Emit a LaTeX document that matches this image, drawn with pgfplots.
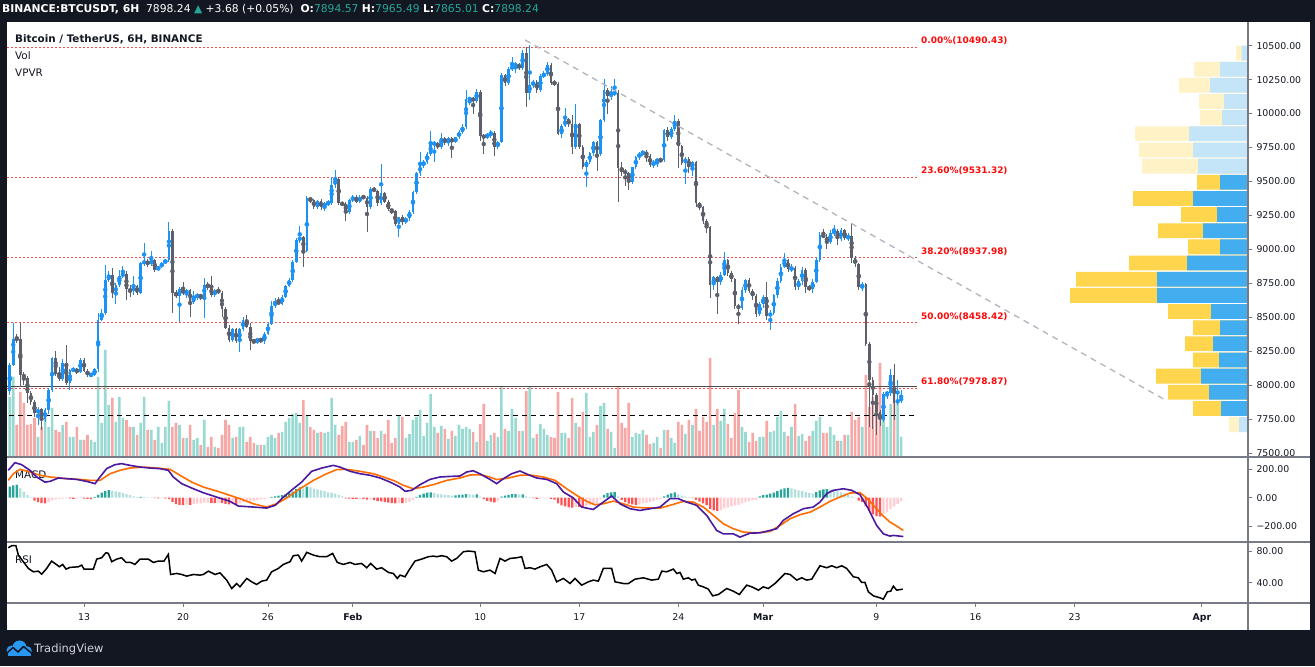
\documentclass[border=0pt]{standalone}
\usepackage{pgfplots}
\pgfplotsset{compat=1.18}
\usepackage{pgfplotstable}
\usepackage{fontspec}
\setmainfont{DejaVu Sans}
\definecolor{bgdark}{RGB}{19,23,34}
\definecolor{titlec}{RGB}{19,23,34}
\definecolor{upc}{RGB}{28,146,245}
\definecolor{dnc}{RGB}{93,96,107}
\definecolor{volup}{RGB}{50,180,166}
\definecolor{voldn}{RGB}{239,83,80}
\definecolor{macdc}{RGB}{75,25,160}
\definecolor{sigc}{RGB}{255,109,0}
\definecolor{hA}{RGB}{38,166,154}
\definecolor{hB}{RGB}{178,223,219}
\definecolor{hC}{RGB}{255,82,82}
\definecolor{hD}{RGB}{255,205,210}
\definecolor{fibline}{RGB}{245,80,80}
\definecolor{fibtext}{RGB}{255,10,10}
\definecolor{sepgrey}{RGB}{120,123,134}
\definecolor{trendgrey}{RGB}{178,181,190}
\definecolor{tvteal}{RGB}{38,166,154}
\definecolor{vpy}{RGB}{254,213,76}
\definecolor{vpb}{RGB}{66,174,240}
\definecolor{vpyl}{RGB}{255,242,198}
\definecolor{vpbl}{RGB}{196,228,248}
\definecolor{tvblue}{RGB}{41,152,242}
\definecolor{logotext}{RGB}{209,212,220}

\pgfplotstableread{
i o h l c v hg k
0 7960 8160 7926 8147 60 78 0
1 8147 8454 8140 8343 80 86 0
2 8343 8380 8310 8336 32 90 0
3 8336 8454 7987 8078 65 66 1
4 8078 8095 8000 8056 54 42 1
5 8056 8070 7870 7943 32 19 1
6 7943 7960 7850 7877 33 5 1
7 7877 7890 7766 7791 39 -20 2
8 7791 7840 7705 7823 20 -32 2
9 7823 7835 7668 7754 30 -38 2
10 7754 7830 7730 7815 40 -40 2
11 7815 7980 7790 7967 30 -30 3
12 7967 8210 7950 8196 49 -18 3
13 8196 8252 8070 8085 27 -12 3
14 8085 8130 8030 8044 25 -8 3
15 8044 8190 8030 8164 32 -6 3
16 8164 8294 8000 8017 35 -4 3
17 8017 8120 7963 8110 20 -5 2
18 8110 8130 8095 8115 20 -8 2
19 8115 8125 8085 8098 30 -6 3
20 8098 8200 8090 8184 17 -4 3
21 8184 8200 8095 8105 17 -7 2
22 8105 8115 8060 8073 22 -9 2
23 8073 8090 8060 8078 17 -10 2
24 8078 8125 8070 8115 15 5 0
25 8115 8530 8100 8483 80 20 0
26 8483 8560 8470 8532 34 35 0
27 8532 8884 8520 8773 107 48 0
28 8773 8840 8760 8810 52 54 0
29 8810 8860 8640 8675 59 50 1
30 8675 8750 8600 8736 35 45 1
31 8736 8850 8720 8803 60 40 1
32 8803 8880 8790 8822 39 32 1
33 8822 8840 8630 8705 37 25 1
34 8705 8740 8650 8690 30 18 1
35 8690 8800 8660 8729 30 10 1
36 8729 8740 8660 8680 22 4 1
37 8680 8910 8670 8896 34 6 0
38 8896 9044 8880 8913 60 5 1
39 8913 8930 8870 8890 27 3 1
40 8890 8990 8880 8921 27 2 1
41 8921 8930 8830 8850 17 -3 2
42 8850 8880 8840 8870 30 -4 2
43 8870 8910 8860 8900 14 -3 3
44 8900 8930 8890 8921 30 -5 2
45 8921 9203 8910 9134 56 -10 2
46 9134 9150 8528 8680 30 -30 2
47 8680 8700 8640 8658 34 -45 2
48 8658 8720 8466 8705 32 -50 2
49 8705 8760 8660 8675 19 -52 2
50 8675 8710 8640 8700 19 -48 3
51 8700 8710 8500 8614 32 -50 2
52 8614 8690 8600 8650 17 -45 3
53 8650 8680 8630 8663 19 -42 3
54 8663 8670 8630 8650 12 -40 3
55 8650 8790 8495 8741 37 -35 3
56 8741 8760 8700 8724 10 -34 3
57 8724 8800 8650 8660 20 -36 2
58 8660 8710 8650 8700 10 -38 2
59 8700 8720 8670 8680 9 -34 3
60 8680 8690 8503 8564 22 -38 2
61 8564 8575 8410 8424 37 -44 2
62 8424 8440 8320 8331 32 -48 2
63 8331 8420 8320 8410 19 -46 3
64 8410 8420 8310 8326 20 -47 2
65 8326 8420 8245 8410 30 -40 3
66 8410 8500 8400 8479 30 -32 3
67 8479 8520 8420 8429 15 -28 3
68 8429 8454 8257 8326 20 -26 3
69 8326 8340 8300 8324 14 -22 3
70 8324 8350 8300 8340 12 -17 3
71 8340 8350 8310 8326 12 -12 3
72 8326 8390 8300 8380 12 -8 3
73 8380 8460 8370 8449 20 -4 3
74 8449 8620 8440 8582 22 5 0
75 8582 8640 8570 8614 19 10 0
76 8614 8650 8590 8600 24 14 0
77 8600 8660 8590 8650 25 18 0
78 8650 8740 8640 8732 35 24 0
79 8732 8790 8720 8773 39 32 0
80 8773 8920 8760 8908 43 42 0
81 8908 9080 8900 9068 44 60 0
82 9068 9171 9050 9088 34 72 0
83 9088 9100 8867 8990 57 66 1
84 8990 9390 8980 9375 42 78 0
85 9375 9388 9340 9363 30 72 1
86 9363 9370 9300 9314 27 64 1
87 9314 9365 9300 9358 24 58 1
88 9358 9370 9290 9309 25 52 1
89 9309 9345 9280 9338 24 46 1
90 9338 9360 9320 9343 25 38 1
91 9343 9535 9330 9471 59 34 1
92 9471 9584 9450 9515 32 28 1
93 9515 9530 9330 9338 22 18 1
94 9338 9350 9320 9333 31 10 1
95 9333 9345 9211 9277 35 -5 2
96 9277 9370 9260 9363 15 -7 2
97 9363 9400 9350 9383 15 -8 2
98 9383 9400 9340 9351 17 -9 2
99 9351 9400 9340 9388 21 -8 3
100 9388 9400 9370 9380 12 -10 2
101 9380 9395 9125 9314 32 -14 2
102 9314 9460 9300 9444 26 -14 3
103 9444 9460 9420 9432 26 -18 2
104 9432 9440 9320 9338 19 -24 2
105 9338 9628 9330 9412 26 -26 2
106 9412 9420 9340 9351 23 -30 2
107 9351 9360 9280 9294 37 -35 2
108 9294 9300 9260 9280 14 -38 2
109 9280 9290 9170 9186 19 -40 2
110 9186 9240 9093 9235 42 -38 3
111 9235 9250 9180 9198 40 -39 2
112 9198 9240 9190 9228 19 -36 3
113 9228 9290 9210 9277 23 -30 3
114 9277 9430 9260 9424 37 -16 3
115 9424 9570 9410 9560 40 5 0
116 9560 9720 9540 9621 47 20 0
117 9621 9660 9600 9645 21 28 0
118 9645 9720 9630 9702 34 35 0
119 9702 9874 9690 9776 63 38 0
120 9776 9800 9640 9781 30 32 1
121 9781 9790 9740 9756 24 26 1
122 9756 9860 9740 9817 31 24 1
123 9817 9830 9770 9788 28 20 1
124 9788 9830 9760 9817 18 18 1
125 9817 9825 9670 9788 26 14 1
126 9788 9830 9780 9825 21 16 0
127 9825 9880 9810 9867 32 20 0
128 9867 9920 9850 9904 28 22 0
129 9904 10174 9890 10105 30 26 0
130 10105 10120 10060 10112 28 24 1
131 10112 10125 10000 10095 25 22 1
132 10095 10180 10080 10161 15 24 0
133 10161 10170 9800 9835 33 8 1
134 9835 9850 9700 9825 53 -10 2
135 9825 9860 9810 9849 16 -22 2
136 9849 9880 9820 9859 22 -28 2
137 9859 9870 9690 9756 24 -33 2
138 9756 9800 9740 9793 20 -25 3
139 9793 10300 9780 10284 70 8 0
140 10284 10295 10200 10223 28 14 0
141 10223 10340 10210 10326 26 20 0
142 10326 10420 10310 10351 48 25 0
143 10351 10380 10300 10365 39 26 0
144 10365 10375 10320 10333 26 22 1
145 10333 10470 10320 10444 26 24 0
146 10444 10490 10050 10154 66 10 1
147 10154 10505 10100 10211 70 4 1
148 10211 10250 10190 10233 19 -3 2
149 10233 10250 10150 10174 23 -8 2
150 10174 10290 10160 10277 33 -6 3
151 10277 10310 10260 10292 28 -5 3
152 10292 10380 10280 10358 22 -3 3
153 10358 10370 10210 10228 20 -8 2
154 10228 10250 10200 10220 19 -14 2
155 10220 10230 9840 9849 65 -40 2
156 9849 9920 9820 9908 24 -55 2
157 9908 10040 9900 9957 24 -62 2
158 9957 9970 9900 9923 19 -68 2
159 9923 9990 9700 9756 59 -70 2
160 9756 10070 9740 9921 34 -65 3
161 9921 9930 9740 9756 30 -65 2
162 9756 9770 9590 9609 45 -66 2
163 9609 9660 9456 9643 64 -60 3
164 9643 9720 9630 9707 20 -55 3
165 9707 9800 9690 9790 25 -48 3
166 9790 9800 9580 9702 32 -40 3
167 9702 9960 9690 9953 51 -10 3
168 9953 10252 9940 10174 54 20 0
169 10174 10190 10000 10130 28 32 0
170 10130 10200 10100 10145 25 38 0
171 10145 10252 10130 10155 9 40 0
172 10155 10170 9351 9596 70 10 1
173 9596 9640 9540 9572 34 -15 2
174 9572 9590 9470 9564 29 -30 2
175 9564 9570 9440 9498 54 -42 2
176 9498 9610 9480 9604 20 -48 2
177 9604 9690 9590 9682 24 -50 2
178 9682 9720 9660 9702 23 -46 3
179 9702 9730 9690 9719 27 -40 3
180 9719 9730 9640 9690 22 -36 3
181 9690 9700 9610 9621 13 -30 3
182 9621 9660 9600 9645 14 -22 3
183 9645 9670 9610 9663 20 -14 3
184 9663 9670 9640 9655 9 -8 3
185 9655 9890 9640 9879 27 10 0
186 9879 9900 9800 9825 27 22 0
187 9825 9900 9810 9884 19 30 0
188 9884 9990 9870 9948 14 38 0
189 9948 9960 9600 9761 35 24 1
190 9761 9770 9620 9638 32 14 1
191 9638 9680 9480 9668 23 8 1
192 9668 9680 9560 9604 37 4 1
193 9604 9650 9540 9640 32 -3 2
194 9640 9650 9310 9338 48 -15 2
195 9338 9345 9290 9313 26 -28 2
196 9313 9320 9190 9210 40 -40 2
197 9210 9220 9117 9161 35 -52 2
198 9161 9170 8638 8736 99 -80 2
199 8736 8800 8700 8793 32 -90 2
200 8793 8800 8527 8761 48 -94 2
201 8761 8830 8740 8810 36 -88 3
202 8810 8982 8800 8920 48 -76 3
203 8920 8930 8800 8827 33 -70 3
204 8827 8840 8760 8778 19 -62 3
205 8778 8790 8560 8581 44 -56 3
206 8581 8600 8449 8569 67 -50 3
207 8569 8720 8550 8699 30 -40 3
208 8699 8780 8680 8773 25 -30 3
209 8773 8790 8680 8694 15 -24 3
210 8694 8710 8630 8655 24 -18 3
211 8655 8670 8500 8527 16 -15 3
212 8527 8610 8510 8596 20 10 0
213 8596 8660 8570 8650 20 18 0
214 8650 8760 8478 8508 36 22 0
215 8508 8550 8409 8532 25 28 0
216 8532 8670 8520 8662 26 36 0
217 8662 8790 8640 8768 40 46 0
218 8768 8890 8750 8871 46 58 0
219 8871 8975 8860 8920 25 66 0
220 8920 8930 8830 8852 21 70 0
221 8852 8890 8830 8862 30 66 1
222 8862 8880 8700 8719 53 58 1
223 8719 8780 8700 8768 21 52 1
224 8768 8870 8740 8847 23 48 1
225 8847 8860 8680 8719 16 40 1
226 8719 8740 8690 8710 21 32 1
227 8710 8780 8680 8761 26 30 1
228 8761 8940 8750 8925 36 40 0
229 8925 9130 8910 9105 40 52 0
230 9105 9150 9080 9092 24 58 0
231 9092 9110 9000 9055 24 61 0
232 9055 9140 9040 9117 30 56 1
233 9117 9180 9100 9137 22 50 1
234 9137 9150 9030 9073 16 44 1
235 9073 9160 9060 9142 16 38 1
236 9142 9150 9070 9080 22 30 1
237 9080 9120 9060 9097 22 22 1
238 9097 9190 8900 8933 45 8 1
239 8933 8950 8870 8891 37 3 1
240 8891 8900 8700 8719 40 -20 2
241 8719 8760 8690 8744 30 -30 2
242 8744 8750 8290 8306 82 -60 2
243 8306 8320 7692 8036 50 -95 2
244 8036 8060 7680 7925 60 -118 2
245 7925 7940 7630 7803 60 -130 2
246 7803 7820 7700 7741 94 -134 2
247 7741 7950 7730 7938 40 -115 3
248 7938 7960 7900 7940 30 -100 3
249 7940 8120 7920 8073 53 -80 3
250 8073 8159 7741 7869 71 -62 3
251 7869 8041 7850 7893 55 -45 3
252 7893 7965 7865 7898 20 -25 3
}\candles

\pgfplotstableread{
d m
6.65 193
7.12 247
7.59 233
8.18 193
8.65 146
9.24 110
9.60 115
10.19 139
10.78 134
11.48 129
12.19 115
12.78 99
13.13 146
13.60 205
14.19 233
14.66 240
15.25 228
15.96 216
16.66 209
17.37 205
17.96 193
18.31 146
18.90 99
19.73 63
20.43 35
21.38 4
22.32 -26
22.91 -59
23.97 -66
24.91 -73
25.50 -54
26.09 4
26.79 63
27.38 110
28.09 186
28.80 209
29.62 228
30.09 216
30.80 186
31.51 169
32.21 158
32.92 139
33.63 110
34.33 75
34.69 45
35.16 52
35.75 92
36.45 129
37.16 146
37.87 150
38.57 153
39.04 181
39.50 190
39.99 168
40.69 129
41.16 99
41.64 134
42.22 169
42.81 188
43.40 162
43.99 139
44.70 129
45.40 99
45.88 40
46.58 -2
47.17 -66
47.99 -83
48.70 -31
49.29 12
49.88 -43
50.59 -78
51.29 -90
52.00 -78
52.71 -66
53.41 -7
54.00 -7
54.59 -31
55.30 -54
56.01 -125
56.71 -231
57.18 -255
57.89 -255
58.36 -278
59.07 -250
59.77 -248
60.48 -231
60.95 -219
61.42 -160
62.13 -113
62.84 -78
63.54 -66
64.01 -31
64.50 30
64.96 52
65.66 63
66.25 52
66.84 21
67.43 -78
68.02 -196
68.49 -255
68.96 -271
69.20 -266
69.90 -274
}\macdtab

\pgfplotstableread{
d s
6.65 122
7.01 169
7.48 200
8.18 181
8.89 158
9.60 146
10.78 134
11.72 129
12.42 122
13.13 122
13.84 169
14.54 193
15.25 209
16.19 216
17.14 209
18.08 200
18.78 158
19.61 110
20.43 75
21.38 47
22.32 16
23.02 -7
23.97 -43
24.91 -66
25.62 -43
26.32 -2
27.26 63
28.21 122
29.15 169
29.86 198
30.56 200
31.51 186
32.45 169
33.15 146
33.86 122
34.57 87
35.27 63
35.98 75
36.69 92
37.63 122
38.57 139
39.28 160
39.99 162
40.60 148
41.16 128
41.87 136
42.81 158
43.52 160
44.46 146
45.29 122
46.11 63
46.82 16
47.53 -26
48.11 -50
48.70 -43
49.41 -24
50.12 -43
50.82 -66
51.77 -73
52.71 -73
53.41 -54
54.36 -26
55.06 -31
55.77 -66
56.48 -125
57.18 -184
57.89 -219
58.60 -243
59.54 -248
60.48 -238
61.19 -196
61.89 -149
62.60 -120
63.31 -102
64.01 -66
64.72 -26
65.43 5
66.14 33
66.84 35
67.31 -2
67.79 -54
68.49 -130
68.96 -172
69.43 -200
69.90 -231
}\sigtab

\pgfplotstableread{
d r
6.65 84.2
6.89 86.7
7.19 86.7
7.36 74.9
7.71 66.5
8.07 58.0
8.42 53.8
8.77 54.6
9.01 50.8
9.36 58.0
9.71 67.3
9.95 64.3
10.26 60.1
10.49 63.1
10.73 57.2
11.01 59.3
11.60 60.1
11.84 62.2
12.00 57.2
12.66 57.2
12.90 69.8
13.25 71.5
13.55 77.9
13.72 77.0
13.96 66.5
14.31 69.8
14.66 71.5
14.97 65.6
15.30 65.6
15.60 63.1
15.96 69.8
16.55 69.8
16.90 65.6
17.25 67.3
17.65 67.3
17.96 75.7
18.12 50.4
18.55 51.7
18.90 50.4
19.26 48.3
19.73 50.4
20.20 49.6
20.43 50.4
20.79 54.6
21.26 50.4
21.61 52.5
22.08 43.3
22.44 32.7
22.79 39.0
23.02 34.8
23.50 45.4
23.85 41.1
24.20 37.8
24.56 42.0
24.91 43.3
25.26 53.8
25.73 58.0
26.09 63.1
26.56 66.5
26.79 74.1
27.15 74.9
27.38 67.3
27.74 78.3
28.21 74.9
28.68 72.8
29.15 72.8
29.57 77.0
29.90 65.6
30.33 63.1
30.80 65.6
31.15 63.1
31.62 64.3
31.98 58.9
32.26 64.3
32.68 57.2
33.04 58.9
33.51 53.0
33.86 51.7
34.14 45.4
34.33 49.6
34.69 47.5
34.92 54.6
35.39 67.3
35.86 69.8
36.33 72.8
36.69 73.6
36.92 72.8
37.28 74.1
37.63 72.8
37.98 67.3
38.34 70.7
38.81 79.1
39.16 80.0
39.63 79.1
39.87 55.9
40.22 53.8
40.69 55.9
41.05 51.7
41.40 70.7
41.75 67.3
42.11 70.7
42.58 71.5
42.93 72.8
43.17 58.0
43.52 58.9
43.87 57.2
44.23 60.1
44.70 63.1
45.05 55.9
45.40 41.1
45.88 45.4
46.35 39.0
46.70 45.4
47.17 36.9
47.64 41.1
48.00 43.3
48.35 42.0
48.70 58.0
49.29 58.0
49.53 41.1
50.12 39.0
50.47 39.0
50.94 44.5
51.53 46.2
52.12 43.3
52.59 44.5
52.83 54.6
53.18 53.8
53.65 57.2
53.89 51.7
54.12 53.0
54.36 44.5
54.71 46.2
54.95 43.3
55.18 44.5
55.42 36.9
55.77 34.8
56.12 31.9
56.43 23.4
56.83 25.1
57.42 32.7
57.89 29.3
58.31 25.1
58.83 36.9
59.19 34.8
59.66 30.6
60.01 34.8
60.36 32.7
60.83 39.0
61.54 51.7
61.90 50.4
62.37 43.3
62.72 46.2
63.07 43.3
63.43 44.5
64.01 61.4
64.49 58.9
64.84 61.4
65.19 58.9
65.55 61.4
65.90 58.0
66.37 47.5
66.72 46.2
66.96 40.3
67.19 40.3
67.43 28.5
67.79 23.4
68.26 20.9
68.49 19.2
68.77 28.5
69.01 29.3
69.20 35.7
69.43 30.6
69.86 31.9
}\rsitab

\pgfplotstableread{
p bl yl
9494 27 23
9375 54 60
9256 30 36
9137 44 45
9018 27 32
8899 60 58
8780 90 81
8661 90 87
8542 36 43
8423 27 27
8304 34 28
8185 28 26
8066 46 45
7947 38 41
7828 26 28
}\vpsolid

\pgfplotstableread{
p bl yl
10446 5.3 5.7
10327 27 26
10208 37 31
10089 23 25
9970 25 22
9851 58 54
9732 54 54
9613 49 56
7709 8 10
}\vplight

\pgfplotsset{
  tvpanel/.style={scale only axis, anchor=south west, width=1241bp,
    xmin=6.558, xmax=94.26, axis line style={draw=none}, xtick=\empty,
    ytick pos=right, yticklabel pos=right, tick align=outside,
    major tick length=4bp, tick style={draw=sepgrey, line width=0.8bp},
    ticklabel style={font=\fontsize{9.4}{10}\selectfont, text=titlec},
    yticklabel style={xshift=1bp},
    /pgf/number format/assume math mode=true},
  tvhidden/.style={scale only axis, anchor=south west, width=1241bp,
    xmin=6.558, xmax=94.26, hide axis},
}

\begin{document}
\begin{tikzpicture}
\begin{scope}[x=1bp,y=1bp]
\fill[bgdark] (0,0) rectangle (1315,666);
\fill[white] (7,36) rectangle (1310,644);
\node[anchor=base west, inner sep=0, text=titlec, font=\bfseries\fontsize{10.4}{12}\selectfont] at (15,623) {Bitcoin / TetherUS, 6H, BINANCE};
\node[anchor=base west, inner sep=0, text=titlec, font=\fontsize{10.4}{12}\selectfont] at (15,606) {Vol};
\node[anchor=base west, inner sep=0, text=titlec, font=\fontsize{10.4}{12}\selectfont] at (15,589.3) {VPVR};
\node[anchor=base west, inner sep=0, text=titlec, font=\fontsize{10.4}{12}\selectfont] at (15,187) {MACD};
\node[anchor=base west, inner sep=0, text=titlec, font=\fontsize{10.4}{12}\selectfont] at (15,102) {RSI};
\end{scope}

% volume (overlay on the price panel)
\begin{axis}[tvhidden, at={(7bp,209bp)}, height=435bp, ymin=0, ymax=435]
\addplot[ybar, bar width=2.6bp, bar shift=0pt, draw=none, fill=volup, fill opacity=0.5,
  restrict expr to domain={\thisrow{c}-\thisrow{o}}{0:100000}]
  table[x expr=6.75+0.25*\thisrow{i}, y=v]{\candles};
\addplot[ybar, bar width=2.6bp, bar shift=0pt, draw=none, fill=voldn, fill opacity=0.5,
  restrict expr to domain={\thisrow{c}-\thisrow{o}}{-100000:-0.01}]
  table[x expr=6.75+0.25*\thisrow{i}, y=v]{\candles};
\end{axis}

% price panel
\begin{axis}[tvpanel, at={(7bp,209bp)}, height=435bp, ymin=7470.5, ymax=10674.6,
  ytick={7500,7750,8000,8250,8500,8750,9000,9250,9500,9750,10000,10250,10500},
  yticklabels={7500.00,7750.00,8000.00,8250.00,8500.00,8750.00,9000.00,9250.00,9500.00,9750.00,10000.00,10250.00,10500.00}]
\addplot[fibline, line width=0.9bp, dash pattern=on 2bp off 2bp] coordinates {(6.558,10490.43) (70.87,10490.43)};
\addplot[fibline, line width=0.9bp, dash pattern=on 2bp off 2bp] coordinates {(6.558,9531.32) (70.87,9531.32)};
\addplot[fibline, line width=0.9bp, dash pattern=on 2bp off 2bp] coordinates {(6.558,8937.98) (70.87,8937.98)};
\addplot[fibline, line width=0.9bp, dash pattern=on 2bp off 2bp] coordinates {(6.558,8458.42) (70.87,8458.42)};
\addplot[black!70, line width=1.2bp] coordinates {(6.558,7990) (70.87,7990)};
\addplot[fibline, line width=0.9bp, dash pattern=on 2bp off 2bp] coordinates {(6.558,7978.87) (70.87,7978.87)};
\addplot[black, line width=1bp, dash pattern=on 5bp off 4bp] coordinates {(6.7,7778) (70.87,7778)};
\addplot[only marks, mark=none, upc, restrict expr to domain={\thisrow{c}-\thisrow{o}}{0:100000},
  error bars/.cd, y dir=both, y explicit, error mark=none, error bar style={line width=0.9bp, upc}]
  table[x expr=6.75+0.25*\thisrow{i}, y expr={0.5*(\thisrow{h}+\thisrow{l})}, y error expr={0.5*(\thisrow{h}-\thisrow{l})}]{\candles};
\addplot[only marks, mark=none, dnc, restrict expr to domain={\thisrow{c}-\thisrow{o}}{-100000:-0.01},
  error bars/.cd, y dir=both, y explicit, error mark=none, error bar style={line width=0.9bp, dnc}]
  table[x expr=6.75+0.25*\thisrow{i}, y expr={0.5*(\thisrow{h}+\thisrow{l})}, y error expr={0.5*(\thisrow{h}-\thisrow{l})}]{\candles};
\addplot[only marks, mark=none, upc, restrict expr to domain={\thisrow{c}-\thisrow{o}}{0:100000},
  error bars/.cd, y dir=both, y explicit, error mark=none, error bar style={line width=2.6bp, upc}]
  table[x expr=6.75+0.25*\thisrow{i}, y expr={0.5*(\thisrow{o}+\thisrow{c})}, y error expr={max(0.5*abs(\thisrow{c}-\thisrow{o}),3.7)}]{\candles};
\addplot[only marks, mark=none, dnc, restrict expr to domain={\thisrow{c}-\thisrow{o}}{-100000:-0.01},
  error bars/.cd, y dir=both, y explicit, error mark=none, error bar style={line width=2.6bp, dnc}]
  table[x expr=6.75+0.25*\thisrow{i}, y expr={0.5*(\thisrow{o}+\thisrow{c})}, y error expr={max(0.5*abs(\thisrow{c}-\thisrow{o}),3.7)}]{\candles};
\addplot[trendgrey, line width=1.3bp, dash pattern=on 6bp off 5bp] coordinates {(43.17,10542) (88.54,7883)};
\node[anchor=base west, inner sep=0, text=fibtext, font=\bfseries\fontsize{9}{10}\selectfont, yshift=3.5bp] at (71.15,10490.43) {0.00\%(10490.43)};
\node[anchor=base west, inner sep=0, text=fibtext, font=\bfseries\fontsize{9}{10}\selectfont, yshift=3.5bp] at (71.15,9531.32) {23.60\%(9531.32)};
\node[anchor=base west, inner sep=0, text=fibtext, font=\bfseries\fontsize{9}{10}\selectfont, yshift=3.5bp] at (71.15,8937.98) {38.20\%(8937.98)};
\node[anchor=base west, inner sep=0, text=fibtext, font=\bfseries\fontsize{9}{10}\selectfont, yshift=3.5bp] at (71.15,8458.42) {50.00\%(8458.42)};
\node[anchor=base west, inner sep=0, text=fibtext, font=\bfseries\fontsize{9}{10}\selectfont, yshift=3.5bp] at (71.15,7978.87) {61.80\%(7978.87)};
\end{axis}

% volume profile (VPVR)
\begin{axis}[scale only axis, anchor=south west, at={(1060bp,209bp)}, width=187bp, height=435bp,
  xmin=0, xmax=187, x dir=reverse, ymin=7470.5, ymax=10674.6, hide axis]
\addplot[xbar, bar width=14.8bp, bar shift=0pt, draw=none, fill=vpy] table[x expr={\thisrow{bl}+\thisrow{yl}}, y=p]{\vpsolid};
\addplot[xbar, bar width=14.8bp, bar shift=0pt, draw=none, fill=vpb] table[x=bl, y=p]{\vpsolid};
\addplot[xbar, bar width=14.8bp, bar shift=0pt, draw=none, fill=vpyl] table[x expr={\thisrow{bl}+\thisrow{yl}}, y=p]{\vplight};
\addplot[xbar, bar width=14.8bp, bar shift=0pt, draw=none, fill=vpbl] table[x=bl, y=p]{\vplight};
\end{axis}

% MACD panel
\begin{axis}[tvpanel, at={(7bp,124bp)}, height=85bp, ymin=-312.5, ymax=287,
  ytick={-200,0,200}, yticklabels={−200.00,0.00,200.00}]
\addplot[ybar, bar width=2.3bp, bar shift=0pt, draw=none, fill=hA, restrict expr to domain={\thisrow{k}}{-0.5:0.5}] table[x expr=6.75+0.25*\thisrow{i}, y=hg]{\candles};
\addplot[ybar, bar width=2.3bp, bar shift=0pt, draw=none, fill=hB, restrict expr to domain={\thisrow{k}}{0.5:1.5}] table[x expr=6.75+0.25*\thisrow{i}, y=hg]{\candles};
\addplot[ybar, bar width=2.3bp, bar shift=0pt, draw=none, fill=hC, restrict expr to domain={\thisrow{k}}{1.5:2.5}] table[x expr=6.75+0.25*\thisrow{i}, y=hg]{\candles};
\addplot[ybar, bar width=2.3bp, bar shift=0pt, draw=none, fill=hD, restrict expr to domain={\thisrow{k}}{2.5:3.5}] table[x expr=6.75+0.25*\thisrow{i}, y=hg]{\candles};
\addplot[sigc, line width=1.6bp] table[x=d, y=s]{\sigtab};
\addplot[macdc, line width=1.6bp] table[x=d, y=m]{\macdtab};
\end{axis}

% RSI panel
\begin{axis}[tvpanel, at={(7bp,63bp)}, height=61bp, ymin=14.4, ymax=91.4,
  ytick={40,80}, yticklabels={40.00,80.00},
  xtick={12,19,25,31,40,47,54,60,68,75,82,91},
  xticklabels={13,20,26,\textbf{Feb},10,17,24,\textbf{Mar},9,16,23,\textbf{Apr}},
  xtick pos=bottom, xticklabel style={text height=6.8bp, text depth=0pt, yshift=-3bp}]
\addplot[black, line width=1.5bp] table[x=d, y=r]{\rsitab};
\end{axis}

\begin{scope}[x=1bp,y=1bp]
\draw[sepgrey, line width=1.2bp] (7,209) -- (1310,209);
\draw[sepgrey, line width=1.2bp] (7,124) -- (1310,124);
\draw[sepgrey, line width=1.2bp] (7,63) -- (1310,63);
\draw[sepgrey, line width=1.2bp] (1248,36) -- (1248,644);
\node[anchor=base west, inner sep=0, text=white, font=\fontsize{10.8}{12}\selectfont] at (2,653)
  {\textbf{BINANCE:BTCUSDT, 6H}\ \ 7898.24 {\color{tvteal}▲} +3.68 (+0.05\%)\ \ \textbf{O:}{\color{tvteal}7894.57} \textbf{H:}{\color{tvteal}7965.49} \textbf{L:}{\color{tvteal}7865.01} \textbf{C:}{\color{tvteal}7898.24}};
\fill[tvblue] (11.5,15.5) circle (5);
\fill[tvblue] (19.5,18.5) circle (7);
\fill[tvblue] (27,15) circle (4.8);
\fill[tvblue] (8,10.3) rectangle (31,15);
\draw[bgdark, line width=1.5bp, line join=round] (7,13) -- (13,18.5) -- (18,14) -- (23.5,19.5) -- (32,12.5);
\node[anchor=base west, inner sep=0, text=logotext, font=\fontsize{11.5}{13}\selectfont] at (34,13) {TradingView};
\end{scope}
\end{tikzpicture}
\end{document}
